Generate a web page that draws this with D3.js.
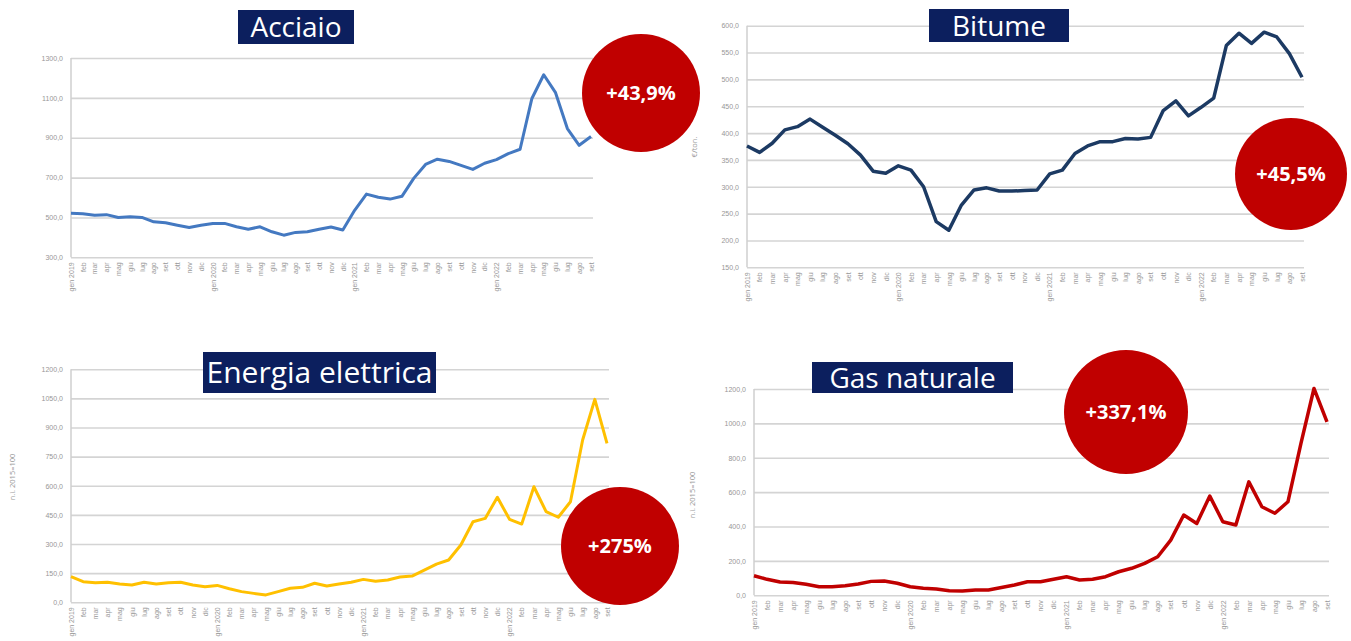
<!DOCTYPE html>
<html>
<head>
<meta charset="utf-8">
<script src="https://cdn.jsdelivr.net/npm/d3@7"></script>
<style>
  body { margin: 0; background: #fff; }
  svg { display: block; font-family: "Open Sans", sans-serif; }
</style>
</head>
<body>
<div id="chart"></div>
<script>
// monthly values gen 2019 - set 2022
var monthNames = ["gen", "feb", "mar", "apr", "mag", "giu", "lug", "ago", "set", "ott", "nov", "dic"];
var years = [2019, 2020, 2021, 2022];

var acciaio = [521, 519, 511, 514, 500, 503, 500, 478, 473, 461, 450, 461,
               470, 470, 453, 441, 453, 428, 411, 425, 428, 441, 452, 437,
               536, 617, 601, 592, 606, 696, 766, 792, 781, 761, 741, 772,
               790, 820, 842, 1097, 1216, 1126, 946, 862, 906];

var bitume = [376, 364, 381, 406, 412, 426, 411, 396, 380, 359, 329, 325,
              339, 331, 300, 235, 219, 266, 294, 298, 292, 292, 293, 294,
              324, 331, 362, 376, 384, 384, 390, 389, 392, 442, 460, 432,
              448, 465, 563, 586, 567, 588, 579, 548, 504];

var energia = [132, 106, 101, 103, 94, 89, 103, 94, 101, 103, 89, 80,
               87, 70, 55, 46, 38, 55, 72, 77, 98, 84, 94, 103,
               118, 108, 115, 130, 135, 166, 197, 218, 295, 415, 432, 541,
               427, 403, 595, 467, 438, 518, 836, 1045, 819];

var gas = [114, 93, 77, 75, 64, 50, 50, 56, 66, 81, 83, 70,
           50, 41, 37, 27, 25, 31, 31, 45, 60, 79, 79, 93,
           108, 89, 93, 108, 137, 157, 186, 224, 321, 467, 418, 577,
           428, 409, 660, 515, 477, 544, 884, 1203, 1009];

var acciaioTicks = [300, 500, 700, 900, 1100, 1300];
var bitumeTicks = [150, 200, 250, 300, 350, 400, 450, 500, 550, 600];
var energiaTicks = [0, 150, 300, 450, 600, 750, 900, 1050, 1200];
var gasTicks = [0, 200, 400, 600, 800, 1000, 1200];

var months = [];
years.forEach(function(y) {
    monthNames.forEach(function(m, i) {
        if (months.length < acciaio.length) months.push(i === 0 ? m + " " + y : m);
    });
});

var svg = d3.select("#chart").append("svg")
    .attr("width", 1351)
    .attr("height", 641);

var fmt = function(d) { return d3.format(".1f")(d).replace(".", ","); };

function drawPanel(p) {
    var g = svg.append("g");

    var x = d3.scalePoint().domain(d3.range(months.length)).range([p.x0, p.x1]);
    var y = d3.scaleLinear().domain(p.domain).range([p.y0, p.y1]);

    // gridlines + y labels
    var yAxis = g.append("g")
        .attr("transform", "translate(" + p.x0 + ",0)")
        .call(d3.axisLeft(y).tickValues(p.ticks).tickFormat(fmt)
              .tickSize(-(p.x1 - p.x0 + 2)).tickPadding(8));
    yAxis.select(".domain").remove();
    yAxis.selectAll("line").attr("stroke", "#d4d4d4").attr("stroke-width", 1.6);
    yAxis.selectAll("text").attr("fill", "#979797").style("font-size", "7px");

    g.append("line")
        .attr("x1", p.x0).attr("x2", p.x0)
        .attr("y1", p.y0).attr("y2", y(p.domain[1]))
        .attr("stroke", "#cfcfcf").attr("stroke-width", 1.5);

    // month labels
    var xAxis = g.append("g")
        .attr("transform", "translate(0," + p.y0 + ")")
        .call(d3.axisBottom(x).tickSize(0).tickPadding(0)
              .tickFormat(function(i) { return months[i]; }));
    xAxis.select(".domain").remove();
    xAxis.selectAll("text")
        .attr("transform", "rotate(-90)")
        .attr("text-anchor", "end")
        .attr("x", -5).attr("y", 0).attr("dy", "0.32em")
        .attr("fill", "#979797")
        .style("font-size", "7px");

    if (p.yTitle) {
        g.append("text")
            .attr("transform", "translate(" + p.yTitleX + "," + p.yTitleY + ") rotate(-90)")
            .attr("text-anchor", "middle")
            .attr("fill", "#979797")
            .style("font-size", "7.5px")
            .text(p.yTitle);
    }

    var line = d3.line()
        .x(function(d, i) { return x(i); })
        .y(function(d) { return y(d); });

    g.append("path")
        .datum(p.values)
        .attr("fill", "none")
        .attr("stroke", p.color)
        .attr("stroke-width", p.width)
        .attr("stroke-linejoin", "round")
        .attr("d", line);

    // title box
    g.append("rect")
        .attr("x", p.box[0]).attr("y", p.box[1])
        .attr("width", p.box[2]).attr("height", p.box[3])
        .attr("fill", "#0c1f5e");
    g.append("text")
        .attr("x", p.box[0] + p.box[2] / 2)
        .attr("y", p.box[1] + p.box[3] / 2)
        .attr("dy", "0.36em")
        .attr("text-anchor", "middle")
        .attr("fill", "#fff")
        .style("font-size", p.titleSize + "px")
        .text(p.title);

    // red badge
    g.append("circle")
        .attr("cx", p.badge[0]).attr("cy", p.badge[1]).attr("r", p.badge[2])
        .attr("fill", "#c00000");
    g.append("text")
        .attr("x", p.badge[0]).attr("y", p.badge[1])
        .attr("dy", "0.36em")
        .attr("text-anchor", "middle")
        .attr("fill", "#fff")
        .style("font-size", "20px")
        .style("font-weight", "bold")
        .text(p.pct);
}

drawPanel({ values: acciaio, ticks: acciaioTicks, domain: [300, 1300],
    x0: 71, x1: 591, y0: 257.3, y1: 58,
    color: "#4479c1", width: 3,
    title: "Acciaio", titleSize: 28, box: [238, 10, 116, 34],
    badge: [641, 93, 59], pct: "+43,9%" });

drawPanel({ values: bitume, ticks: bitumeTicks, domain: [150, 600],
    x0: 747, x1: 1302, y0: 267.3, y1: 25.7,
    color: "#1c3a63", width: 3.5,
    yTitle: "€/ton.", yTitleX: 697, yTitleY: 147,
    title: "Bitume", titleSize: 28, box: [929, 9, 140, 33],
    badge: [1291, 174, 56], pct: "+45,5%" });

drawPanel({ values: energia, ticks: energiaTicks, domain: [0, 1200],
    x0: 71, x1: 607, y0: 602.3, y1: 369.3,
    color: "#ffc000", width: 3,
    yTitle: "n.i. 2015=100", yTitleX: 15, yTitleY: 477,
    title: "Energia elettrica", titleSize: 30, box: [203, 352, 233, 41],
    badge: [620, 546, 59], pct: "+275%" });

drawPanel({ values: gas, ticks: gasTicks, domain: [0, 1200],
    x0: 754, x1: 1327, y0: 595.3, y1: 389,
    color: "#c00000", width: 3.5,
    yTitle: "n.i. 2015=100", yTitleX: 695, yTitleY: 495,
    title: "Gas naturale", titleSize: 28, box: [812, 362, 201, 31],
    badge: [1126, 412, 62], pct: "+337,1%" });
</script>
</body>
</html>
